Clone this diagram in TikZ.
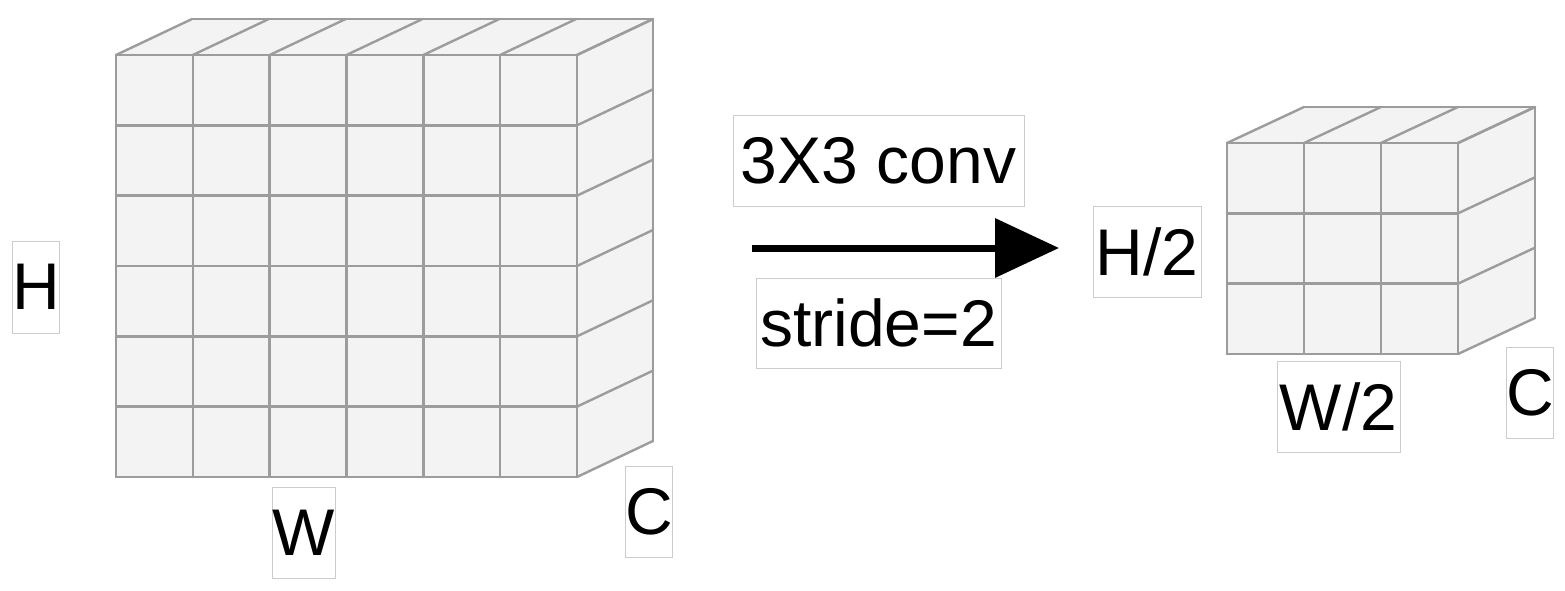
\documentclass[tikz,border=0pt]{standalone}
\usepackage{fontspec}
\setmainfont{Liberation Sans}
\usetikzlibrary{arrows.meta}
\definecolor{edgegray}{HTML}{9C9C9C}
\definecolor{cellfill}{HTML}{F3F3F3}
\definecolor{boxgray}{HTML}{CCCCCC}
\newcommand\gridcube[8]{%
  % #1 x0, #2 y0, #3 ncol, #4 nrow, #5 w, #6 h, #7 dx, #8 dy
  \pgfmathsetmacro\cW{#3*#5}\pgfmathsetmacro\cH{#4*#6}
  \fill[cellfill] (#1,#2) rectangle ({#1+\cW},{#2+\cH});
  \fill[cellfill] (#1,#2) -- ({#1+\cW},#2) -- ({#1+\cW+#7},{#2+#8}) -- ({#1+#7},{#2+#8}) -- cycle;
  \fill[cellfill] ({#1+\cW},#2) -- ({#1+\cW+#7},{#2+#8}) -- ({#1+\cW+#7},{#2+\cH+#8}) -- ({#1+\cW},{#2+\cH}) -- cycle;
  \foreach \i in {0,...,#3}{
    \draw[cubeline] ({#1+\i*#5},#2) -- ({#1+\i*#5},{#2+\cH});
    \draw[cubeline] ({#1+\i*#5},#2) -- ({#1+\i*#5+#7},{#2+#8});
  }
  \foreach \j in {0,...,#4}{
    \draw[cubeline] (#1,{#2+\j*#6}) -- ({#1+\cW},{#2+\j*#6});
    \draw[cubeline] ({#1+\cW},{#2+\j*#6}) -- ({#1+\cW+#7},{#2+\j*#6+#8});
  }
  \draw[cubeline] ({#1+#7},{#2+#8}) -- ({#1+\cW+#7},{#2+#8}) -- ({#1+\cW+#7},{#2+\cH+#8});
}
\begin{document}
\begin{tikzpicture}[x=1pt,y=-1pt,
  cubeline/.style={draw=edgegray,line width=2.4pt,line cap=round,line join=round},
  lbl/.style={draw=boxgray,line width=1pt,fill=white,inner sep=0pt,font=\fontsize{66}{66}\selectfont,text=black},
  conn/.style={line width=7pt,-{Triangle[length=64pt,width=58pt]}}]
\useasboundingbox (0,0) rectangle (1565,590);
\fill[white] (0,0) rectangle (1565,590);
\gridcube{116}{55}{6}{6}{76.83}{70.33}{76}{-36}
\gridcube{1227}{143}{3}{3}{77}{70.33}{77}{-36}
\node[lbl,minimum width=46pt,minimum height=92pt] (h) at (36,287) {H};
\node[lbl,minimum width=60pt,minimum height=91pt] (w) at (304,532.5) {W};
\node[lbl,minimum width=46pt,minimum height=91pt] (c) at (649,511.5) {C};
\node[lbl,minimum width=291pt,minimum height=91pt] (conv) at (878.5,160.5) {3X3 conv};
\node[lbl,minimum width=245pt,minimum height=90pt] (stride) at (878.5,323) {stride=2};
\node[lbl,minimum width=108pt,minimum height=91pt] (h2) at (1147,251.5) {H/2};
\node[lbl,minimum width=123pt,minimum height=91pt] (w2) at (1338.5,406.5) {W/2};
\node[lbl,minimum width=46pt,minimum height=91pt] (c2) at (1530,392.5) {C};
\coordinate (a0) at (752,248);
\coordinate (a1) at (1059,248);
\draw[conn] (a0) -- (a1);
\end{tikzpicture}
\end{document}
